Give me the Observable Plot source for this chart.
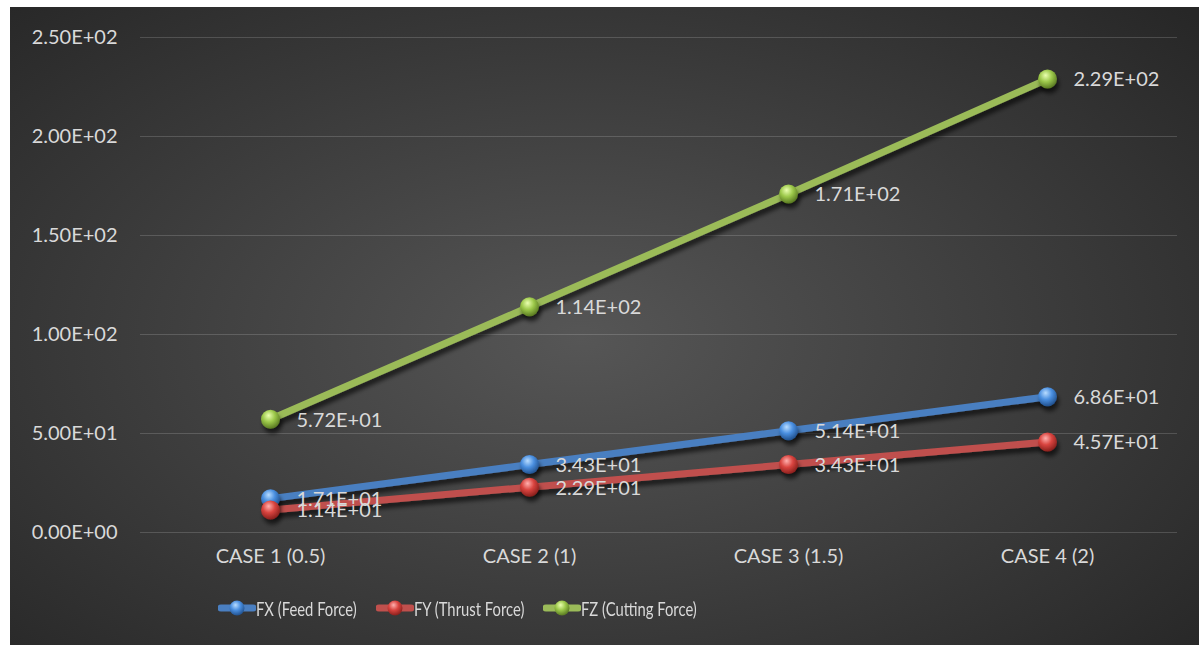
<!DOCTYPE html>
<html>
<head>
<meta charset="utf-8">
<script src="https://cdn.jsdelivr.net/npm/d3@7"></script>
<script src="https://cdn.jsdelivr.net/npm/@observablehq/plot@0.6"></script>
<style>
  html, body { margin: 0; padding: 0; background: #ffffff; }
  #panel {
    position: absolute; left: 10px; top: 7px; width: 1189px; height: 638px;
    background: radial-gradient(ellipse 70% 75% at 48% 52%, #565656 0%, #3c3c3c 55%, #272727 100%);
    overflow: hidden;
    font-family: Lato, "Open Sans", sans-serif;
  }
  #chart { position: absolute; left: 0; top: 0; }
  #legend { position: absolute; left: 0; top: 588px; width: 1189px; height: 26px; color: #d9d9d9; font-size: 20px; }
  .swatch { position: absolute; top: 2px; display: block; }
  .label {
    position: absolute; top: 0; line-height: 26px; white-space: nowrap;
    transform: scaleX(0.74); transform-origin: 0 50%;
  }
</style>
</head>
<body>
<div id="panel">
  <div id="chart"></div>
  <div id="legend"></div>
</div>
<script>
// Force components per depth-of-cut case
const categories = ["CASE 1 (0.5)", "CASE 2 (1)", "CASE 3 (1.5)", "CASE 4 (2)"];
const feedForce = [17.1, 34.3, 51.4, 68.6];
const thrustForce = [11.4, 22.9, 34.3, 45.7];
const cuttingForce = [57.2, 114, 171, 229];
const seriesNames = ["FX (Feed Force)", "FY (Thrust Force)", "FZ (Cutting Force)"];
const seriesColors = ["#4a7fc1", "#c0504d", "#9bbb59"];
const yTicks = [0, 50, 100, 150, 200, 250];

// Sphere shading for each series' markers: [highlight, body, rim]
const sphereStops = [
  ["#b8dcff", "#4a8fe0", "#22528f"],
  ["#ffb0ae", "#d9443f", "#8a201d"],
  ["#eaffb0", "#9cc84a", "#5a7a22"]
];

// Scientific notation like 2.29E+02
function sci(v) {
  const [m, e] = v.toExponential(2).split("e");
  const sign = e[0] === "-" ? "-" : "+";
  const digits = e.replace(/^[+-]/, "").padStart(2, "0");
  return `${m}E${sign}${digits}`;
}

const seriesValues = [feedForce, thrustForce, cuttingForce];
const rows = [];
seriesNames.forEach((s, si) => {
  categories.forEach((c, ci) => rows.push({series: s, si, category: c, value: seriesValues[si][ci]}));
});

const font = "Lato, 'Open Sans', sans-serif";
const marks = [
  Plot.ruleY(yTicks, {stroke: "#ffffff", strokeOpacity: 0.16, strokeWidth: 1.2})
];
seriesNames.forEach((s, si) => {
  const data = rows.filter(d => d.si === si);
  marks.push(Plot.line(data, {
    x: "category", y: "value", stroke: seriesColors[si], strokeWidth: 7,
    strokeLinecap: "butt", className: "force-line"
  }));
});
seriesNames.forEach((s, si) => {
  const data = rows.filter(d => d.si === si);
  marks.push(Plot.dot(data, {
    x: "category", y: "value", r: 9.5, fill: `url(#sphere${si})`, stroke: "none",
    className: "force-dot"
  }));
});
marks.push(Plot.text(rows, {
  x: "category", y: "value", text: d => sci(d.value), textAnchor: "start",
  dx: 26, dy: 1, fill: "#d9d9d9", fontSize: 20
}));

const chart = Plot.plot({
  width: 1189,
  height: 585,
  marginLeft: 130,
  marginRight: 22,
  marginTop: 30,
  marginBottom: 60,
  style: {background: "transparent", fontFamily: font, fontSize: "20px", color: "#d9d9d9"},
  x: {type: "point", domain: categories, padding: 0.5, label: null, tickSize: 0, tickPadding: 16},
  y: {domain: [0, 250], ticks: yTicks, tickFormat: sci, label: null, tickSize: 0, tickPadding: 23},
  marks
});

// Gradients and shadow used by the line and marker marks
const svg = d3.select(chart);
const defs = svg.insert("defs", ":first-child");
sphereStops.forEach((st, i) => {
  const g = defs.append("radialGradient").attr("id", `sphere${i}`)
    .attr("cx", "0.42").attr("cy", "0.35").attr("r", "0.65").attr("fx", "0.4").attr("fy", "0.3");
  g.append("stop").attr("offset", "0").attr("stop-color", st[0]);
  g.append("stop").attr("offset", "0.5").attr("stop-color", st[1]);
  g.append("stop").attr("offset", "1").attr("stop-color", st[2]);
});
const f = defs.append("filter").attr("id", "lineShadow")
  .attr("x", "-5%").attr("y", "-20%").attr("width", "110%").attr("height", "150%");
f.append("feDropShadow").attr("dx", 2).attr("dy", 5).attr("stdDeviation", 2.2)
  .attr("flood-color", "#000").attr("flood-opacity", 0.6);
svg.selectAll(".force-line").attr("filter", "url(#lineShadow)");
svg.selectAll(".force-dot").attr("filter", "url(#lineShadow)");

document.getElementById("chart").appendChild(chart);

// Legend: condensed labels, each entry at its own offset
const legendX = [208, 366, 533];
const legend = d3.select("#legend");
seriesNames.forEach((s, i) => {
  const sw = legend.append("svg").attr("class", "swatch")
    .style("left", `${legendX[i]}px`).attr("width", 38).attr("height", 22);
  const d = sw.append("defs").append("radialGradient").attr("id", `lg${i}`)
    .attr("cx", "0.42").attr("cy", "0.35").attr("r", "0.65").attr("fx", "0.4").attr("fy", "0.3");
  d.append("stop").attr("offset", "0").attr("stop-color", sphereStops[i][0]);
  d.append("stop").attr("offset", "0.5").attr("stop-color", sphereStops[i][1]);
  d.append("stop").attr("offset", "1").attr("stop-color", sphereStops[i][2]);
  sw.append("line").attr("x1", 3).attr("x2", 35).attr("y1", 11).attr("y2", 11)
    .attr("stroke", seriesColors[i]).attr("stroke-width", 7).attr("stroke-linecap", "round");
  sw.append("circle").attr("cx", 19).attr("cy", 11).attr("r", 7.5).attr("fill", `url(#lg${i})`);
  legend.append("span").attr("class", "label").style("left", `${legendX[i] + 38}px`).text(s);
});
</script>
</body>
</html>
